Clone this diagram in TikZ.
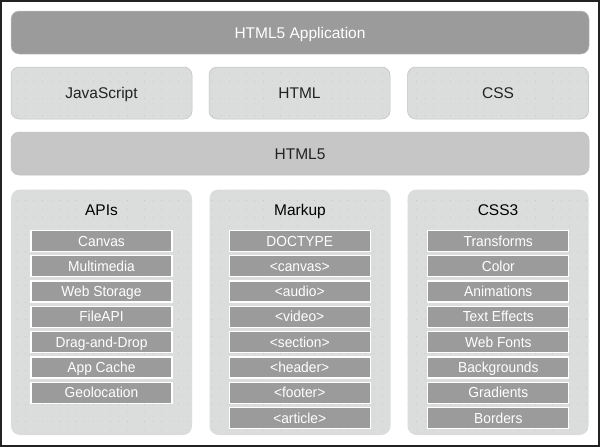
\documentclass[tikz,border=0pt]{standalone}
\usepackage{fontspec}
\setmainfont{Liberation Sans}
\newfontfamily\itemfont[FakeStretch=0.95]{Liberation Sans}
\usetikzlibrary{patterns.meta}
\definecolor{darkbar}{HTML}{9B9B9B}
\definecolor{midbar}{HTML}{C6C6C6}
\definecolor{lightbox}{HTML}{DBDCDC}
\definecolor{boxline}{HTML}{C2C2C2}
\definecolor{dotcol}{HTML}{B8B8B8}
\definecolor{txtdark}{HTML}{222222}
\tikzset{
  dotted fill/.style={postaction={pattern={Dots[distance=8.5pt,radius=0.4pt]},pattern color=dotcol}},
  capcenter/.style={text height=11pt, text depth=0pt},
  topbar/.style={fill=darkbar, draw=boxline, line width=0.5pt, rounded corners=8pt, minimum width=578pt, minimum height=43pt, inner sep=0pt, capcenter, text=white, font=\fontsize{15.5}{18}\selectfont},
  midbox/.style={fill=lightbox, draw=boxline, line width=0.5pt, rounded corners=8pt, dotted fill, minimum width=181pt, minimum height=52pt, inner sep=0pt, capcenter, text=txtdark, font=\fontsize{15.5}{18}\selectfont},
  html5bar/.style={fill=midbar, draw=boxline, line width=0.5pt, rounded corners=8pt, minimum width=578pt, minimum height=43pt, inner sep=0pt, capcenter, text=txtdark, font=\fontsize{15.5}{18}\selectfont},
  colbox/.style={fill=lightbox, draw=none, rounded corners=9pt, dotted fill, minimum width=181pt, minimum height=245.5pt, inner sep=0pt},
  colhead/.style={text=black, inner sep=0pt, capcenter, font=\fontsize{15.5}{18}\selectfont},
  item/.style={fill=darkbar, draw=white, line width=1.3pt, minimum width=141pt, minimum height=21pt, inner sep=0pt, text height=10pt, text depth=0pt, text=white, font=\itemfont\fontsize{14.5}{17}\selectfont},
}
\begin{document}
\begin{tikzpicture}[x=1pt,y=-1pt]
\useasboundingbox (0,0) rectangle (600,447);
\fill[white] (0,0) rectangle (600,447);
\draw[txtdark, line width=2pt] (1,1) rectangle (599,446);

\node[topbar] (app) at (300,32.5) {HTML5 Application};
\node[midbox] (js) at (101.5,93) {JavaScript};
\node[midbox] (html) at (299.5,93) {HTML};
\node[midbox] (css) at (498,93) {CSS};
\node[html5bar] (h5) at (300,153.5) {HTML5};

\node[colbox] (colA) at (101.5,312.25) {};
\node[colbox] (colB) at (300,312.25) {};
\node[colbox] (colC) at (498,312.25) {};

\node[colhead] (hA) at (101.5,210) {APIs};
\node[colhead] (hB) at (300,210) {Markup};
\node[colhead] (hC) at (498,210) {CSS3};

\foreach \t [count=\i from 0] in {Canvas,Multimedia,Web Storage,FileAPI,Drag-and-Drop,App Cache,Geolocation}
  \node[item] (a\i) at (101.5,241+25.3*\i) {\t};
\foreach \t [count=\i from 0] in {DOCTYPE,<canvas>,<audio>,<video>,<section>,<header>,<footer>,<article>}
  \node[item] (m\i) at (299.7,241+25.3*\i) {\t};
\foreach \t [count=\i from 0] in {Transforms,Color,Animations,Text Effects,Web Fonts,Backgrounds,Gradients,Borders}
  \node[item] (c\i) at (498.3,241+25.3*\i) {\t};
\end{tikzpicture}
\end{document}
